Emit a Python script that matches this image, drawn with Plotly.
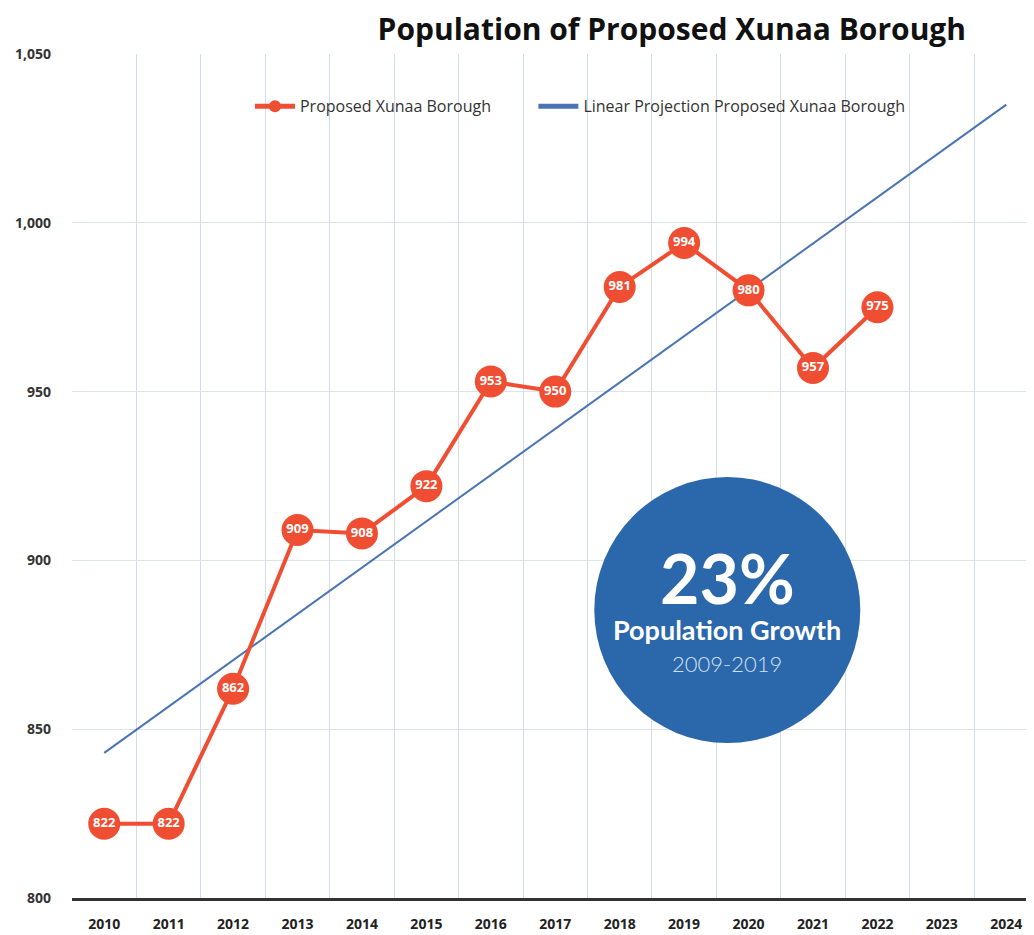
import plotly.graph_objects as go

years = [2010, 2011, 2012, 2013, 2014, 2015, 2016, 2017, 2018, 2019, 2020, 2021, 2022]
population = [822, 822, 862, 909, 908, 922, 953, 950, 981, 994, 980, 957, 975]
proj_years = [2010, 2024]
proj_values = [843, 1035]
tick_years = list(range(2010, 2025))
y_ticks = [800, 850, 900, 950, 1000, 1050]

ORANGE = "#f04e32"
BLUE = "#4a74b4"
CIRCLE = "#2b67ab"

fig = go.Figure()
fig.add_trace(go.Scatter(
    x=proj_years, y=proj_values, name="Linear Projection Proposed Xunaa Borough",
    mode="lines", line=dict(color=BLUE, width=2), legendrank=2,
))
fig.add_trace(go.Scatter(
    x=years, y=population, name="Proposed Xunaa Borough" + "&nbsp;" * 9,
    mode="lines+markers+text",
    line=dict(color=ORANGE, width=4),
    marker=dict(color=ORANGE, size=32, line=dict(width=0)),
    text=[str(v) for v in population], textposition="middle center",
    textfont=dict(color="white", size=13, family="Open Sans", weight="bold"),
    legendrank=1,
))

fig.add_shape(type="circle", xref="x", yref="y", xsizemode="pixel", ysizemode="pixel",
              xanchor=2019.67, yanchor=885.3, x0=-133, x1=133, y0=-133, y1=133,
              fillcolor=CIRCLE, line=dict(width=0), layer="above")
fig.add_annotation(x=2019.67, y=894.8, xref="x", yref="y", text="<b>23%</b>", showarrow=False,
                   font=dict(family="Lato", size=68, color="white"))
fig.add_annotation(x=2019.67, y=879.4, xref="x", yref="y", text="<b>Population Growth</b>", showarrow=False,
                   font=dict(family="Lato", size=27, color="white"))
fig.add_annotation(x=2019.67, y=869.6, xref="x", yref="y", text="2009-2019", showarrow=False,
                   font=dict(family="Lato", size=22, color="#cfe0f2", weight=300))

fig.update_layout(
    width=1026, height=927,
    margin=dict(l=64, r=0, t=46, b=37),
    paper_bgcolor="white", plot_bgcolor="white",
    title=dict(text="<b>Population of Proposed Xunaa Borough</b>", x=0.647, xanchor="center",
               y=0.9765, yanchor="middle", font=dict(family="Open Sans", size=30, color="#111")),
    legend=dict(orientation="h", x=0.185, xref="paper", y=0.938, yanchor="middle",
                font=dict(family="Open Sans", size=16, color="#333"),
                itemwidth=40, itemsizing="constant",
                bgcolor="rgba(0,0,0,0)"),
    showlegend=True,
    font=dict(family="Open Sans"),
)
fig.update_xaxes(range=[2009.5, 2024.43], tickvals=tick_years, ticktext=[str(y) for y in tick_years],
                 showgrid=False, zeroline=False,
                 minor=dict(tick0=2009.5, dtick=1, showgrid=True, gridcolor="#d3dde9", gridwidth=1),
                 showline=True, linecolor="#333", linewidth=3,
                 tickfont=dict(family="Open Sans", size=14, color="#222", weight="bold"),
                 ticklabelstandoff=11)
fig.update_yaxes(range=[800, 1050], tickvals=y_ticks, tickformat=",", showgrid=True,
                 gridcolor="#dde3ea", gridwidth=1, zeroline=False, showline=False,
                 tickfont=dict(family="Open Sans", size=14, color="#333", weight="bold"),
                 ticklabelstandoff=20)
fig.write_html("out.html")
